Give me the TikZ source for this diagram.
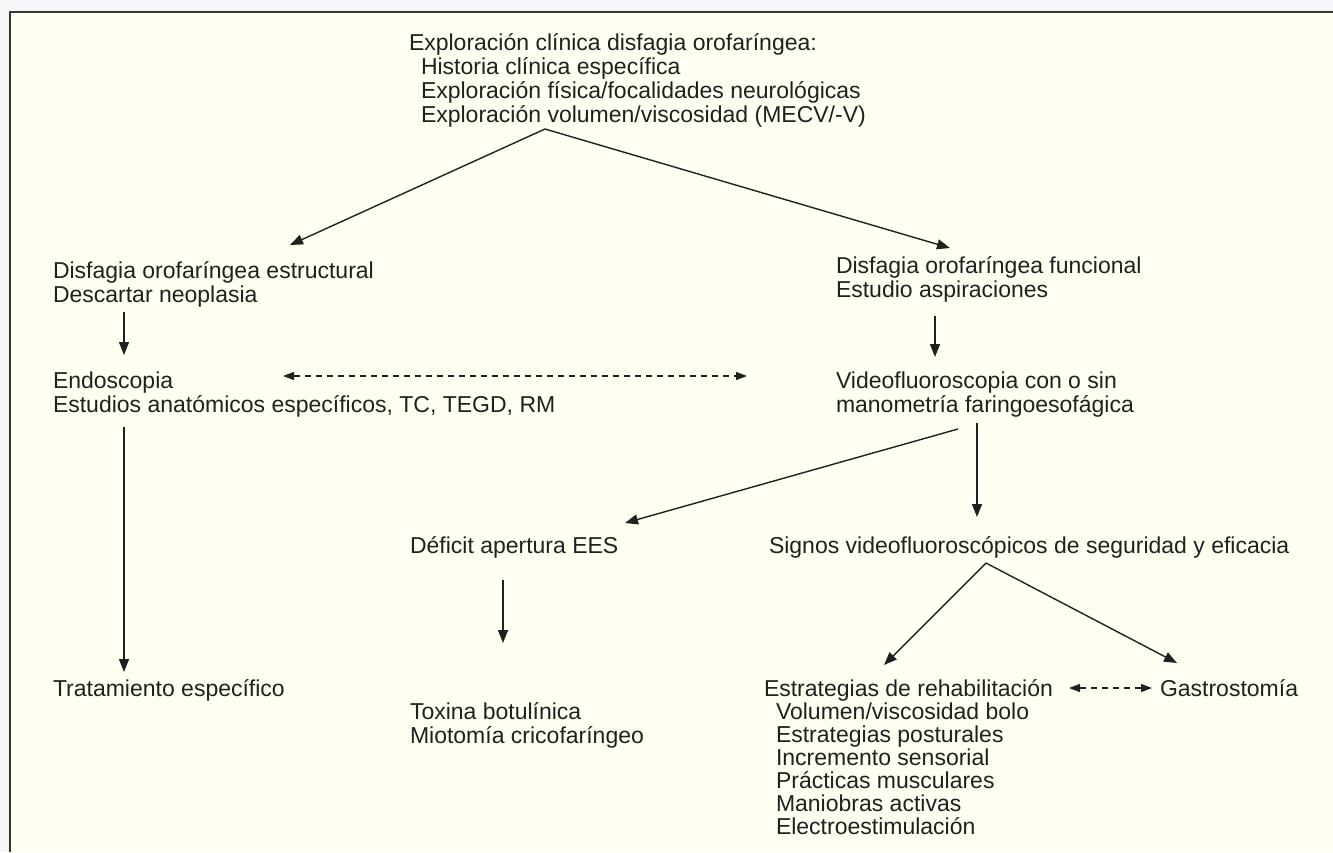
\documentclass[tikz,border=0pt]{standalone}
\usepackage{fontspec}
\setmainfont{Liberation Sans}
\usetikzlibrary{arrows.meta}
\definecolor{paper}{RGB}{255,255,242}
\definecolor{ink}{RGB}{35,31,32}
\definecolor{outside}{RGB}{246,246,246}
\definecolor{framecol}{RGB}{55,55,55}
\begin{document}
\begin{tikzpicture}[x=1pt,y=-1pt,
  % text blocks are placed by the baseline of their last line
  txt/.style={anchor=base west, inner sep=0pt, outer sep=0pt, align=left,
    text=ink, font=\fontsize{23}{24}\selectfont},
  arr/.style={draw=ink, line width=1.4pt, -{Triangle[length=13pt,width=10pt]}},
  darr/.style={draw=ink, line width=1.3pt, dash pattern=on 6pt off 5pt,
    {Triangle[length=11pt,width=8pt]}-{Triangle[length=11pt,width=8pt]}}]
  % page and frame
  \useasboundingbox (0,0) rectangle (1333,852);
  \fill[outside] (0,0) rectangle (1333,852);
  \fill[paper] (10,12) rectangle (1333,852);
  \draw[framecol, line width=2.2pt] (10,852) -- (10,12) -- (1333,12);

  % text blocks
  \node[txt] (explor) at (409,122) {Exploración clínica disfagia orofaríngea:\\
    \hspace*{12pt}Historia clínica específica\\
    \hspace*{12pt}Exploración física/focalidades neurológicas\\
    \hspace*{12pt}Exploración volumen/viscosidad (MECV/-V)};
  \node[txt] (estr) at (53,302) {Disfagia orofaríngea estructural\\Descartar neoplasia};
  \node[txt] (func) at (836,297) {Disfagia orofaríngea funcional\\Estudio aspiraciones};
  \node[txt] (endo) at (53,412) {Endoscopia\\Estudios anatómicos específicos, TC, TEGD, RM};
  \node[txt] (video) at (836,412) {Videofluoroscopia con o sin\\manometría faringoesofágica};
  \node[txt] (deficit) at (410,553) {Déficit apertura EES};
  \node[txt] (signos) at (769,553) {Signos videofluoroscópicos de seguridad y eficacia};
  \node[txt] (trat) at (53,696) {Tratamiento específico};
  \node[txt] (toxina) at (410,743) {Toxina botulínica\\Miotomía cricofaríngeo};
  \node[txt, font=\fontsize{23}{23}\selectfont] (rehab) at (764,834) {Estrategias de rehabilitación\\
    \hspace*{12pt}Volumen/viscosidad bolo\\
    \hspace*{12pt}Estrategias posturales\\
    \hspace*{12pt}Incremento sensorial\\
    \hspace*{12pt}Prácticas musculares\\
    \hspace*{12pt}Maniobras activas\\
    \hspace*{12pt}Electroestimulación};
  \node[txt] (gastro) at (1160,696) {Gastrostomía};

  % connector end points
  \coordinate (explorFork) at (545,129);
  \coordinate (estrIn) at (290,245);
  \coordinate (funcIn) at (950,248);
  \coordinate (estrOut) at (124,312);
  \coordinate (endoIn) at (124,355);
  \coordinate (funcOut) at (935,316);
  \coordinate (videoIn) at (935,357);
  \coordinate (endoLink) at (283,376);
  \coordinate (videoLink) at (747,376);
  \coordinate (endoOut) at (124,427);
  \coordinate (tratIn) at (124,672);
  \coordinate (videoOutA) at (958,429);
  \coordinate (deficitIn) at (625,523);
  \coordinate (videoOutB) at (977,423);
  \coordinate (signosIn) at (977,517);
  \coordinate (deficitOut) at (503,580);
  \coordinate (toxinaIn) at (503,643);
  \coordinate (signosFork) at (986,563);
  \coordinate (rehabIn) at (884,665);
  \coordinate (gastroIn) at (1177,663);
  \coordinate (rehabLink) at (1069,688);
  \coordinate (gastroLink) at (1152,688);

  % connectors
  \draw[arr] (explorFork) -- (estrIn);
  \draw[arr] (explorFork) -- (funcIn);
  \draw[arr] (estrOut) -- (endoIn);
  \draw[arr] (funcOut) -- (videoIn);
  \draw[darr] (endoLink) -- (videoLink);
  \draw[arr] (endoOut) -- (tratIn);
  \draw[arr] (videoOutA) -- (deficitIn);
  \draw[arr] (videoOutB) -- (signosIn);
  \draw[arr] (deficitOut) -- (toxinaIn);
  \draw[arr] (signosFork) -- (rehabIn);
  \draw[arr] (signosFork) -- (gastroIn);
  \draw[darr] (rehabLink) -- (gastroLink);
\end{tikzpicture}
\end{document}
